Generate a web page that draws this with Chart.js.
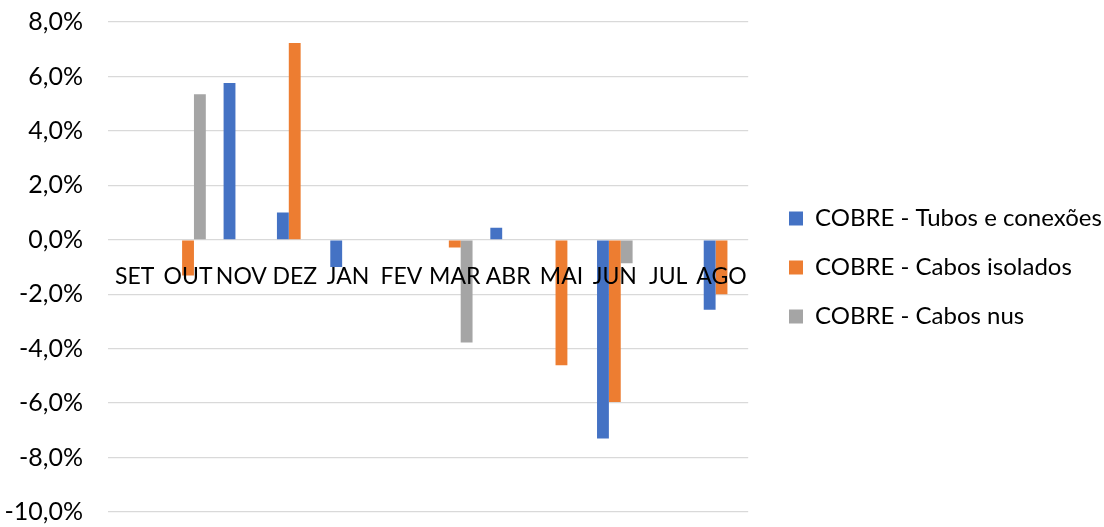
<!DOCTYPE html>
<html>
<head>
<meta charset="utf-8">
<script src="https://cdn.jsdelivr.net/npm/chart.js@4/dist/chart.umd.min.js"></script>
<style>
  html, body { margin: 0; padding: 0; background: #ffffff; }
  #wrap { width: 1104px; height: 527px; }
</style>
</head>
<body>
<div id="wrap"><canvas id="c" width="1104" height="527"></canvas></div>
<script>
// ---- data ----
const categories = ['SET', 'OUT', 'NOV', 'DEZ', 'JAN', 'FEV', 'MAR', 'ABR', 'MAI', 'JUN', 'JUL', 'AGO'];
const seriesNames = ['COBRE - Tubos e conexões', 'COBRE - Cabos isolados', 'COBRE - Cabos nus'];
const tubosConexoes = [0, 0, 5.76, 1.0, -1.0, 0, 0, 0.44, 0, -7.30, 0, -2.57];
const cabosIsolados = [0, -1.31, 0, 7.23, 0, 0, -0.28, 0, -4.61, -5.96, 0, -2.0];
const cabosNus = [0, 5.35, 0, 0, 0, 0, -3.77, 0, 0, -0.86, 0, 0];
const yTicks = [-10, -8, -6, -4, -2, 0, 2, 4, 6, 8];

// ---- style ----
const FONT = 'Lato';
const FS_Y = 25, FS_X = 23, FS_L = 24;
const colors = ['#4472C4', '#ED7D31', '#A5A5A5'];
const PLOT_LEFT = 108, PLOT_RIGHT = 748, PLOT_TOP = 22, PLOT_BOTTOM = 513;
const LEGEND_BOX_X = 789, LEGEND_STEP = 49, BOX = 14;

const m = document.createElement('canvas').getContext('2d');
m.font = `${FS_L}px ${FONT}`;
const tw = Math.max(...seriesNames.map(n => m.measureText(n).width));
const P = LEGEND_STEP - FS_L;
const legendW = Math.ceil(P + BOX + FS_L / 2 + tw + 10);
const padRight = Math.max(0, 1104 - PLOT_RIGHT - legendW);

const legendShift = {
  id: 'legendShift',
  beforeDraw(chart) {
    const lg = chart.legend;
    if (lg) {
      lg.left = LEGEND_BOX_X - P;
      lg.right = lg.left + legendW + 40;
      lg.width = lg.right - lg.left;
    }
  }
};

const fmt = v => v.toFixed(1).replace('.', ',') + '%';

new Chart(document.getElementById('c'), {
  type: 'bar',
  data: {
    labels: categories,
    datasets: [
      { label: seriesNames[0], data: tubosConexoes, backgroundColor: colors[0] },
      { label: seriesNames[1], data: cabosIsolados, backgroundColor: colors[1] },
      { label: seriesNames[2], data: cabosNus, backgroundColor: colors[2] }
    ]
  },
  options: {
    responsive: false,
    animation: false,
    devicePixelRatio: 1,
    layout: { autoPadding: false, padding: { left: 0, right: padRight, top: PLOT_TOP, bottom: 527 - PLOT_BOTTOM } },
    datasets: { bar: { categoryPercentage: 3 / 4.5, barPercentage: 1.0, borderWidth: 0 } },
    plugins: {
      legend: {
        position: 'right',
        align: 'center',
        maxWidth: legendW,
        labels: {
          boxWidth: BOX, boxHeight: BOX, padding: P,
          color: '#000000',
          font: { family: FONT, size: FS_L }
        }
      },
      tooltip: { enabled: false }
    },
    scales: {
      x: {
        position: { y: 0 },
        grid: { display: false, drawTicks: false },
        border: { display: false },
        ticks: { color: '#000000', font: { family: FONT, size: FS_X }, padding: 23, z: 1, maxRotation: 0, autoSkip: false }
      },
      y: {
        min: -10, max: 8,
        afterBuildTicks: s => { s.ticks = yTicks.map(v => ({ value: v })); },
        afterFit: s => { s.width = PLOT_LEFT; },
        grid: { color: '#D9D9D9', lineWidth: 1.3, drawTicks: true, tickLength: 25, tickColor: 'rgba(0,0,0,0)' },
        border: { display: false },
        ticks: { color: '#000000', font: { family: FONT, size: FS_Y }, padding: 0, callback: v => fmt(v) }
      }
    }
  },
  plugins: [legendShift]
});
</script>
</body>
</html>
